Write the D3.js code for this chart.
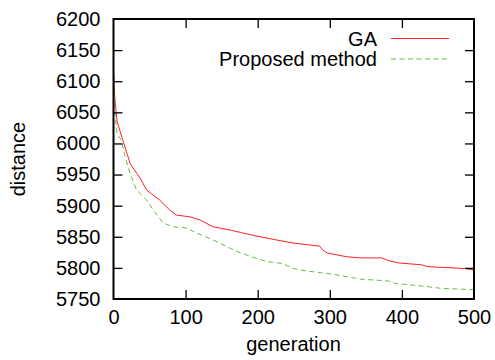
<!DOCTYPE html>
<html>
<head>
<meta charset="utf-8">
<script src="https://cdn.jsdelivr.net/npm/d3@7"></script>
<style>
  body { margin: 0; background: #fff; }
  svg { display: block; font-family: "Liberation Sans", Arial, sans-serif; }
</style>
</head>
<body>
<div id="chart"></div>
<script>
// generations and best distance per series
const gaGen = [0, 2, 5, 13, 23, 37, 46, 64, 78, 87, 106, 120, 138, 161, 176, 199, 221, 249, 286, 290, 296, 323, 342, 372, 381, 395, 427, 436, 487, 498, 500];
const gaDist = [6115, 6070, 6035, 6005, 5968, 5944, 5925, 5909, 5893, 5885, 5882, 5877, 5866, 5861, 5857, 5851, 5846, 5840, 5835, 5829, 5824, 5818, 5816, 5816, 5812, 5808, 5805, 5802, 5799, 5797, 5793];

const propGen = [0, 2, 5, 11, 16, 23, 32, 46, 55, 69, 83, 102, 115, 138, 161, 176, 194, 213, 235, 249, 268, 296, 314, 342, 381, 391, 427, 455, 500];
const propDist = [6120, 6050, 6015, 6005, 5979, 5952, 5925, 5909, 5893, 5872, 5866, 5864, 5856, 5845, 5832, 5824, 5817, 5810, 5807, 5799, 5795, 5791, 5788, 5782, 5779, 5775, 5771, 5767, 5765];

const xTicks = [0, 100, 200, 300, 400, 500];
const yTicks = [5750, 5800, 5850, 5900, 5950, 6000, 6050, 6100, 6150, 6200];
const seriesNames = ["GA", "Proposed method"];

const width = 495, height = 360;
const margin = { top: 19, right: 21, bottom: 61, left: 113.5 };
const iw = width - margin.left - margin.right;
const ih = height - margin.top - margin.bottom;
const fs = 20;

const svg = d3.select("#chart").append("svg")
  .attr("width", width)
  .attr("height", height);

const g = svg.append("g")
  .attr("transform", `translate(${margin.left},${margin.top})`);

const x = d3.scaleLinear().domain([0, 500]).range([0, iw]);
const y = d3.scaleLinear().domain([5750, 6200]).range([ih, 0]);

// clip so curves stay inside the frame
g.append("clipPath").attr("id", "clip")
  .append("rect").attr("width", iw).attr("height", ih);

const line = d3.line()
  .x(d => x(d[0]))
  .y(d => y(d[1]));

g.append("path")
  .datum(gaGen.map((v, i) => [v, gaDist[i]]))
  .attr("clip-path", "url(#clip)")
  .attr("fill", "none")
  .attr("stroke", "#ff2020")
  .attr("stroke-width", 1)
  .attr("d", line);

g.append("path")
  .datum(propGen.map((v, i) => [v, propDist[i]]))
  .attr("clip-path", "url(#clip)")
  .attr("fill", "none")
  .attr("stroke", "#66bb44")
  .attr("stroke-width", 1)
  .attr("stroke-dasharray", "5,3.5")
  .attr("d", line);

// axes: ticks point inward, mirrored on top and right
const tickLen = 9;
const fmt = d3.format("d");
const styleAxis = sel => {
  sel.attr("font-size", fs).attr("font-family", "Liberation Sans, Arial, sans-serif");
  sel.select(".domain").remove();
  sel.selectAll(".tick line").attr("stroke", "#000").attr("stroke-width", 1.3);
  sel.selectAll(".tick text").attr("fill", "#000");
};

g.append("g")
  .attr("transform", `translate(0,${ih})`)
  .call(d3.axisBottom(x).tickValues(xTicks).tickFormat(fmt).tickSizeInner(-tickLen).tickSizeOuter(0).tickPadding(11))
  .call(styleAxis);

g.append("g")
  .call(d3.axisTop(x).tickValues(xTicks.slice(1, -1)).tickSizeInner(-tickLen).tickSizeOuter(0).tickFormat(""))
  .call(styleAxis);

g.append("g")
  .call(d3.axisLeft(y).tickValues(yTicks).tickFormat(fmt).tickSizeInner(-tickLen).tickSizeOuter(0).tickPadding(13))
  .call(styleAxis);

g.append("g")
  .attr("transform", `translate(${iw},0)`)
  .call(d3.axisRight(y).tickValues(yTicks.slice(1, -1)).tickSizeInner(-tickLen).tickSizeOuter(0).tickFormat(""))
  .call(styleAxis);

// hide end ticks that would sit on the frame corners
g.selectAll(".tick").filter(d => d === 0 || d === 500 || d === 5750 || d === 6200)
  .select("line").attr("stroke-width", 0);

g.append("rect")
  .attr("width", iw).attr("height", ih)
  .attr("fill", "none")
  .attr("stroke", "#000")
  .attr("stroke-width", 2);

// axis titles
svg.append("text")
  .attr("x", 293.5)
  .attr("y", 351)
  .attr("text-anchor", "middle")
  .attr("font-size", fs)
  .text("generation");

svg.append("text")
  .attr("transform", `translate(25,${margin.top + ih / 2}) rotate(-90)`)
  .attr("text-anchor", "middle")
  .attr("font-size", fs)
  .text("distance");

// legend
const legend = svg.append("g");
const legendColors = ["#ff2020", "#66bb44"];
const legendDash = [null, "5,3.5"];
seriesNames.forEach((name, i) => {
  const ly = 38.5 + i * 20.5;
  legend.append("text")
    .attr("x", 377)
    .attr("y", ly)
    .attr("dy", "0.35em")
    .attr("text-anchor", "end")
    .attr("font-size", fs)
    .text(name);
  legend.append("line")
    .attr("x1", 391).attr("x2", 449)
    .attr("y1", ly).attr("y2", ly)
    .attr("stroke", legendColors[i])
    .attr("stroke-width", 1)
    .attr("stroke-dasharray", legendDash[i]);
});
</script>
</body>
</html>
